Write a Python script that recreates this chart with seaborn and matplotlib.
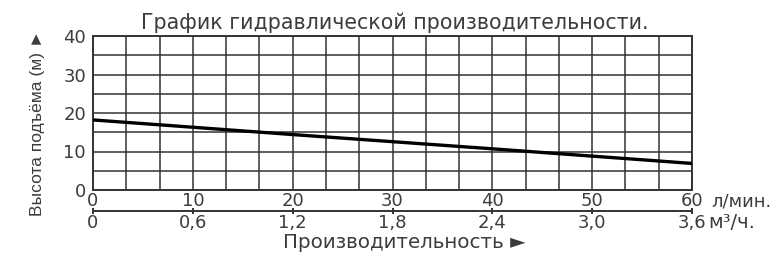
import matplotlib
matplotlib.use("Agg")
import matplotlib.pyplot as plt
import matplotlib.transforms as mtransforms
import seaborn as sns
import pandas as pd
import numpy as np

# Data
flow_lpm = [0, 10, 20, 30, 40, 50, 60]
head_m = [18.2, 16.3, 14.4, 12.55, 10.7, 8.8, 6.9]
x_ticks = [0, 10, 20, 30, 40, 50, 60]
x_tick_labels = ["0", "10", "20", "30", "40", "50", "60"]
m3h_ticks = [0, 0.6, 1.2, 1.8, 2.4, 3.0, 3.6]
m3h_labels = ["0", "0,6", "1,2", "1,8", "2,4", "3,0", "3,6"]
y_ticks = [0, 10, 20, 30, 40]
unit_lpm = "л/мин."
unit_m3h = "м³/ч."

title = "График гидравлической производительности."
xlabel = "Производительность ►"
ylabel = "Высота подъёма (м) ►"

sns.set_style("white")
plt.rcParams["font.family"] = ["DejaVu Sans"]

TXT = "#3c3c3c"
GRID = "#333333"
FS = 13
FS_T = 14.8

fig = plt.figure(figsize=(7.8, 2.71), dpi=100)
ax = fig.add_axes([93/780, 1 - 190/271, (692-93)/780, (190-36)/271])

df = pd.DataFrame({"flow": flow_lpm, "head": head_m})
sns.lineplot(data=df, x="flow", y="head", ax=ax, color="black", lw=2.4, zorder=5)

ax.set_xlim(0, 60)
ax.set_ylim(0, 40)
ax.set_xticks(x_ticks)
ax.set_xticklabels(x_tick_labels)
ax.set_xticks(np.arange(0, 60.01, 10/3), minor=True)
ax.set_yticks(y_ticks)
ax.set_yticks(np.arange(0, 40.01, 5), minor=True)
ax.grid(True, which="both", color=GRID, lw=1.1)
ax.set_axisbelow(True)
ax.tick_params(axis="both", which="both", length=0, labelsize=FS, labelcolor=TXT)
ax.tick_params(axis="x", pad=1.5)
ax.tick_params(axis="y", pad=5)
for s in ax.spines.values():
    s.set_visible(True)
    s.set_color(GRID)
    s.set_linewidth(1.4)
ax.set_xlabel("")
ax.set_ylabel("")

sec_pos = -21/154
sec = ax.secondary_xaxis(sec_pos, functions=(lambda x: x * 0.06, lambda x: x / 0.06))
sec.set_xticks(m3h_ticks)
sec.set_xticklabels(m3h_labels)
sec.spines["bottom"].set_color(GRID)
sec.spines["bottom"].set_linewidth(1.4)
sec.tick_params(axis="x", direction="inout", length=4, width=1.4, color=GRID,
                labelsize=FS, labelcolor=TXT, pad=0)

# unit texts to the right of the last tick labels
trans = mtransforms.blended_transform_factory(ax.transData, fig.transFigure)
ax.annotate(unit_lpm, xy=(60, 1 - 201/271), xycoords=trans,
            xytext=(19, 0), textcoords="offset pixels",
            ha="left", va="center", fontsize=FS, color=TXT, annotation_clip=False)
ax.annotate(unit_m3h, xy=(60, 1 - 222/271), xycoords=trans,
            xytext=(16, 0), textcoords="offset pixels",
            ha="left", va="center", fontsize=FS + 1, color=TXT, annotation_clip=False)

fig.text(395/780, 1 - 29/271, title, ha="center", va="baseline", fontsize=FS_T, color=TXT)
fig.text(404/780, 1 - 248/271, xlabel, ha="center", va="baseline", fontsize=14.3, color=TXT)
fig.text(38/780, 1 - 123/271, ylabel, ha="center", va="center", rotation=90,
         fontsize=12.5, color=TXT, family=["Liberation Sans", "DejaVu Sans"])

fig.savefig("out.png", dpi=100)
